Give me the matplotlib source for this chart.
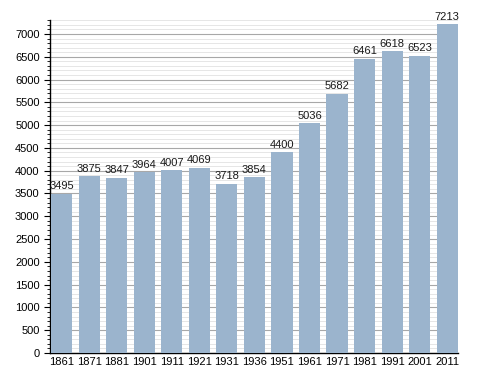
import matplotlib
matplotlib.use("Agg")
import matplotlib.pyplot as plt
from matplotlib.ticker import MultipleLocator

years = ["1861", "1871", "1881", "1901", "1911", "1921", "1931", "1936",
         "1951", "1961", "1971", "1981", "1991", "2001", "2011"]
population = [3495, 3875, 3847, 3964, 4007, 4069, 3718, 3854,
              4400, 5036, 5682, 6461, 6618, 6523, 7213]

BAR = "#9bb4cd"
plt.rcParams["font.family"] = ["Liberation Sans", "DejaVu Sans"]

fig = plt.figure(figsize=(4.88, 3.73), dpi=100)
ax = fig.add_axes([0.1025, 0.0536, 0.836, 0.892])

x = range(len(years))
ax.bar(x, population, width=0.77, color=BAR, zorder=3)
for i, v in zip(x, population):
    ax.text(i, v + 60, str(v), ha="center", va="bottom", fontsize=8, color="#1a1a1a", zorder=4)

ax.set_xlim(-0.42, len(years) - 1 + 0.39)
ax.set_ylim(0, 7300)
ax.set_xticks(list(x))
ax.set_xticklabels(years, fontsize=8)
ax.yaxis.set_major_locator(MultipleLocator(500))
ax.yaxis.set_minor_locator(MultipleLocator(100))
ax.tick_params(axis="y", which="major", length=4, labelsize=8, direction="out")
ax.tick_params(axis="y", which="minor", length=2, direction="out")
ax.tick_params(axis="x", length=0, pad=3)

ax.grid(axis="y", which="major", color="#a8a8a8", linewidth=0.8, zorder=1)
ax.grid(axis="y", which="minor", color="#e2e2e2", linewidth=0.6, zorder=0)
ax.grid(axis="x", visible=False)
for s in ("top", "right"):
    ax.spines[s].set_visible(False)
ax.spines["left"].set_linewidth(1.0)
ax.spines["bottom"].set_linewidth(1.0)

fig.savefig("out.png", dpi=100)
